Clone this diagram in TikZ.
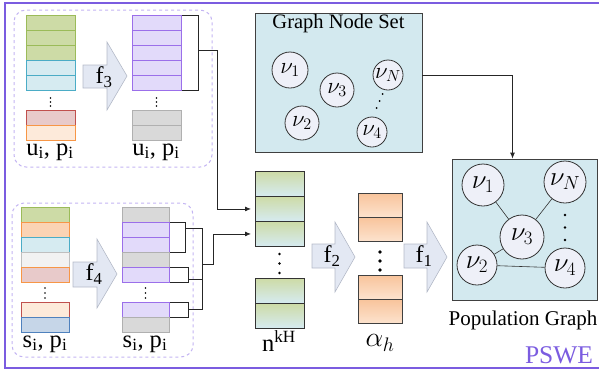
\RequirePackage{fix-cm}
\documentclass[tikz,border=0pt]{standalone}
\usepackage{fontspec}
\setmainfont{Liberation Serif}
\usetikzlibrary{positioning}
\usetikzlibrary{calc}
\usetikzlibrary{arrows.meta}

\definecolor{frameP}{HTML}{7B5CE0}
\definecolor{dashP}{HTML}{C3B4F2}
\definecolor{grnF}{HTML}{CDDBA6}
\definecolor{grnD}{HTML}{9BBB59}
\definecolor{bluF}{HTML}{D6EBF1}
\definecolor{bluD}{HTML}{4BACC6}
\definecolor{redF}{HTML}{E8CACA}
\definecolor{redD}{HTML}{C0504D}
\definecolor{pchF}{HTML}{FDEADA}
\definecolor{pchD}{HTML}{F79646}
\definecolor{orgF}{HTML}{FBD3B4}
\definecolor{gryF}{HTML}{F2F2F2}
\definecolor{gryD}{HTML}{BFBFBF}
\definecolor{dgrF}{HTML}{D9D9D9}
\definecolor{dgrD}{HTML}{B0B0B0}
\definecolor{purF}{HTML}{E2DAFA}
\definecolor{purD}{HTML}{9B6FEA}
\definecolor{navF}{HTML}{C6D6E8}
\definecolor{navD}{HTML}{4F81BD}
\definecolor{boxF}{HTML}{D3E9EF}
\definecolor{arrF}{HTML}{E3E8F3}
\definecolor{arrD}{HTML}{B4BAC8}
\definecolor{nodeF}{HTML}{EEF0F8}
\definecolor{ornT}{HTML}{F8C49C}
\definecolor{ornB}{HTML}{FDE3CE}

\tikzset{
  frame/.style={draw=frameP, line width=1.3pt},
  group/.style={draw=dashP, dashed, line width=1pt, rounded corners=12pt},
  cell/.style={draw, anchor=north west, inner sep=0pt, minimum height=15pt, line width=0.8pt},
  cgrn/.style={fill=grnF, draw=grnD},
  cblu/.style={fill=bluF, draw=bluD},
  cred/.style={fill=redF, draw=redD},
  cpch/.style={fill=pchF, draw=pchD},
  corg/.style={fill=orgF, draw=pchD},
  cpnk/.style={fill=redF, draw=pchD},
  cpcr/.style={fill=pchF, draw=redD},
  cgry/.style={fill=gryF, draw=gryD},
  cdgr/.style={fill=dgrF, draw=dgrD},
  cpur/.style={fill=purF, draw=purD},
  cnav/.style={fill=navF, draw=navD},
  nkcell/.style={draw=black!80, anchor=north west, inner sep=0pt, minimum width=49pt, minimum height=25pt, line width=0.9pt, top color=grnF, bottom color=bluF},
  alcell/.style={draw=black!75, anchor=north west, inner sep=0pt, minimum width=44pt, minimum height=24pt, line width=0.9pt, top color=ornT, bottom color=ornB},
  fatarrow/.style={fill=arrF, draw=arrD, line width=0.6pt},
  flbl/.style={font=\fontsize{24}{26}\selectfont, inner sep=0pt},
  lbl/.style={font=\fontsize{24.5}{27}\selectfont, inner sep=0pt},
  title/.style={font=\fontsize{20.5}{22}\selectfont, inner sep=0pt},
  gbox/.style={draw=black!75, fill=boxF, line width=0.8pt, inner sep=0pt},
  vtx/.style={circle, draw=black!80, fill=nodeF, line width=0.8pt, inner sep=0pt, font=\fontsize{23}{25}\selectfont},
  bigvtx/.style={vtx, font=\fontsize{27}{29}\selectfont},
  link/.style={draw=black!85, line width=0.8pt},
  edge/.style={draw=black!80, line width=0.6pt},
  dot/.style={fill=black}
}

\begin{document}
\begin{tikzpicture}[x=1pt,y=-1pt]
\useasboundingbox (0,0) rectangle (599,373);

% outer frame
\draw[frame] (599,3) -- (5,3) -- (5,368) -- (599,368);

% group boxes
\draw[group] (14,10) rectangle (212,167);
\draw[group] (12,203) rectangle (193,357);

% u_i, p_i stacks
\foreach \y/\s [count=\i] in {15/cgrn,30/cgrn,45/cgrn,60/cblu,75/cblu,110/cred,125/cpch}
  \node[cell,\s,minimum width=49pt] (ul\i) at (26,\y) {};
\foreach \y/\s [count=\i] in {15/cpur,30/cpur,45/cpur,60/cpur,75/cpur,110/cdgr,125/cdgr}
  \node[cell,\s,minimum width=49pt] (ur\i) at (132,\y) {};

% s_i, p_i stacks
\foreach \y/\s [count=\i] in {207/cgrn,222/corg,237/cblu,252/cgry,267/cpnk,302/cpcr,317/cnav}
  \node[cell,\s,minimum width=48pt] (bl\i) at (21,\y) {};
\foreach \y/\s [count=\i] in {207/cdgr,222/cpur,237/cpur,252/cdgr,267/cpur,302/cpur,317/cdgr}
  \node[cell,\s,minimum width=47pt] (br\i) at (122,\y) {};

% n^kH and alpha stacks
\foreach \y [count=\i] in {171,196,221,278,303}
  \node[nkcell] (nk\i) at (255,\y) {};
\foreach \y [count=\i] in {193,217,275,299}
  \node[alcell] (al\i) at (358,\y) {};

% dots
\foreach \x/\y in {50.5/98,50.5/102,50.5/106,156.5/98,156.5/102,156.5/106,
                   45/288,45/293,45/298,145.5/288,145.5/293,145.5/298}
  \fill[dot] (\x,\y) circle (0.9pt);
\foreach \y in {254,263.5,273}
  \fill[dot] (279.5,\y) circle (1.4pt);
\foreach \y in {252,261,270}
  \fill[dot] (380,\y) circle (1.8pt);

% f arrows
\draw[fatarrow] (83,65) -- (107,65) -- (107,42) -- (127,76) -- (107,110) -- (107,88) -- (83,88) -- cycle;
\node[flbl] (f3) at (104,77) {f\textsubscript{3}};
\draw[fatarrow] (73,262) -- (97,262) -- (97,239) -- (117,274) -- (97,308) -- (97,287) -- (73,287) -- cycle;
\node[flbl] (f4) at (94,274) {f\textsubscript{4}};
\draw[fatarrow] (312,244) -- (335,244) -- (335,222) -- (355,257) -- (335,292) -- (335,268) -- (312,268) -- cycle;
\node[flbl] (f2) at (332,256) {f\textsubscript{2}};
\draw[fatarrow] (404,244) -- (427,244) -- (427,222) -- (447,257) -- (427,292) -- (427,268) -- (404,268) -- cycle;
\node[flbl] (f1) at (424,256) {f\textsubscript{1}};

% labels
\node[lbl] (ultxt) at (50,152) {u\textsubscript{i}, p\textsubscript{i}};
\node[lbl] (urtxt) at (156,152) {u\textsubscript{i}, p\textsubscript{i}};
\node[lbl] (bltxt) at (45,344) {s\textsubscript{i}, p\textsubscript{i}};
\node[lbl] (brtxt) at (145,344) {s\textsubscript{i}, p\textsubscript{i}};
\node[lbl] (nktxt) at (279,341) {n\textsuperscript{kH}};
\node[lbl, font=\fontsize{28}{30}\selectfont] (altxt) at (380,343) {$\alpha_h$};

% graph node set
\node[gbox, minimum width=167pt, minimum height=139pt] (gns) at (338.5,82.5) {};
\node[title] (gnstxt) at (338.5,24) {Graph Node Set};
\node[vtx, minimum size=36pt] (g1) at (290,70) {$\nu_1$};
\node[vtx, minimum size=34pt] (g3) at (337,90) {$\nu_3$};
\node[vtx, minimum size=30pt] (gN) at (388,75) {$\nu_N$};
\node[vtx, minimum size=34pt] (g2) at (302,123) {$\nu_2$};
\node[vtx, minimum size=30pt] (g4) at (372,132) {$\nu_4$};
\foreach \x/\y in {382.5/94,379.5/101,376.5/108}
  \fill[dot] (\x,\y) circle (1pt);

% population graph
\node[gbox, minimum width=145pt, minimum height=141pt] (pg) at (524.5,229.5) {};
\node[bigvtx, minimum size=42pt] (p1) at (483,185) {$\nu_1$};
\node[bigvtx, minimum size=42pt] (pN) at (565,182) {$\nu_N$};
\node[bigvtx, minimum size=44pt] (p3) at (522,237) {$\nu_3$};
\node[bigvtx, minimum size=40pt] (p2) at (477,265) {$\nu_2$};
\node[bigvtx, minimum size=40pt] (p4) at (565,268) {$\nu_4$};
\draw[edge] (p1) -- (p3);
\draw[edge] (pN) -- (p3);
\draw[edge] (p3) -- (p2);
\draw[edge] (p2) -- (p4);
\foreach \y in {215,227.5,240}
  \fill[dot] (565,\y) circle (1.3pt);
\node[title, font=\fontsize{21}{23}\selectfont] (pgtxt) at (523,320) {Population Graph};
\node[font=\fontsize{25.5}{27}\selectfont, text=frameP, inner sep=0pt] (pswe) at (559,355) {PSWE};

% brackets and connectors
\draw[link] (ur1.north east) -- ++(17,0) coordinate (tb1) |- (ur5.south east);
\draw[link, -{Latex[length=6pt,width=5pt]}, shorten >=4pt] ($(tb1)+(0,35)$) -- ++(19,0) |- (nk2.west);
\draw[link] (br2.north east) -- ++(16,0) coordinate (bb1) |- (br3.south east);
\draw[link] (br5.north east) -- ++(19,0) coordinate (bb2) |- (br5.south east);
\draw[link] (br6.north east) -- ++(19,0) coordinate (bb3) |- (br6.south east);
\draw[link] ($(bb1)+(0,6)$) -| ($(bb3)+(14,7)$) -- ($(bb3)+(0,7)$);
\draw[link] ($(bb2)+(0,12)$) -- ++(14,0);
\draw[link, -{Latex[length=6pt,width=5pt]}, shorten >=4pt] ($(bb3)+(14,-38)$) -- ++(11,0) |- (nk3.west);
\draw[link, -{Latex[length=6pt,width=5pt]}] ($(gns.north east)!0.446!(gns.south east)$) -| ($(pg.north)+(-12,0)$);
\end{tikzpicture}
\end{document}
